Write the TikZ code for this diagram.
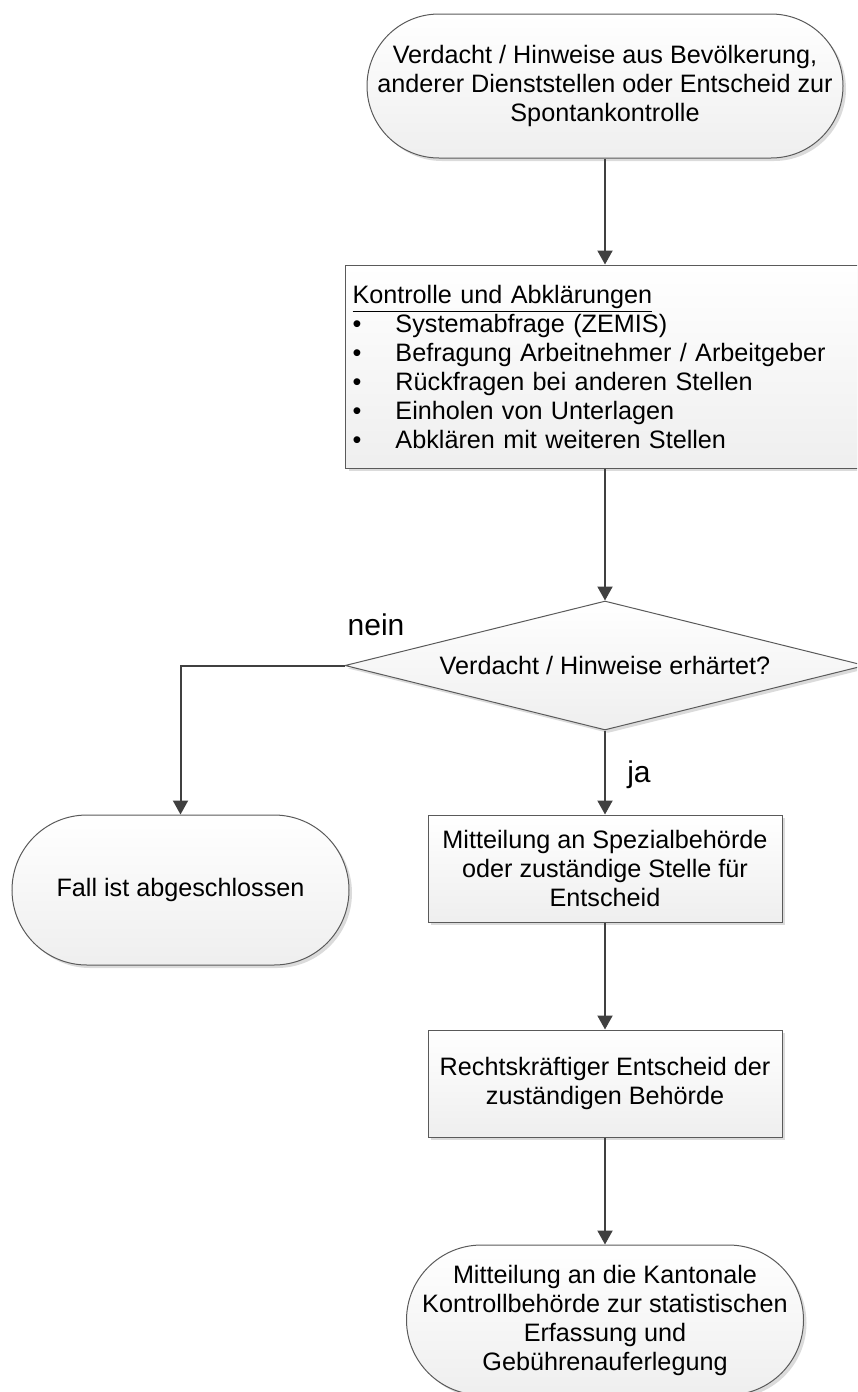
\documentclass[tikz,border=0pt]{standalone}
\usepackage{fontspec}
\setmainfont{Liberation Sans}
\usepackage{tikz}
\usetikzlibrary{arrows.meta}
\usetikzlibrary{shapes.geometric}
\usetikzlibrary{shadows}
\definecolor{linegray}{HTML}{404040}
\definecolor{edgegray}{HTML}{5A5A5A}

\begin{document}
\begin{tikzpicture}[x=0.5pt, y=-0.5pt,
    box/.style={draw=edgegray, line width=0.5pt, top color=white, bottom color=gray!13,
      drop shadow={shadow xshift=1.5pt, shadow yshift=-1.5pt, fill=black!20, opacity=0.7},
      font=\fontsize{12.6}{14.5}\selectfont, align=center, inner sep=2pt},
    terminal/.style={box, rectangle, rounded corners=#1, minimum height=2*#1},
    process/.style={box, rectangle},
    decision/.style={box, diamond, aspect=4, minimum width=260pt, minimum height=64.5pt, inner sep=0pt},
    lbl/.style={font=\fontsize{15}{17}\selectfont, inner sep=0pt},
    flow/.style={draw=linegray, line width=1pt, -{Triangle[length=7pt, width=7.5pt]}}]

      \newcommand\colx{605}

      \useasboundingbox (0, 0) rectangle (857, 1392);
      \clip (0, 0) rectangle (857, 1392);

      \node [terminal=36pt, minimum width=238pt] (start) at (\colx, 86)
        {Verdacht / Hinweise aus Bevölkerung,\\anderer Dienststellen oder Entscheid zur\\Spontankontrolle};
      \node [process, anchor=west, minimum height=101.5pt, text width=255.5pt, align=left, inner xsep=3.5pt] (check) at (345, 366.5)
        {\underline{Kontrolle und Abklärungen}\\
         \makebox[21.5pt][l]{\textbullet}Systemabfrage (ZEMIS)\\
         \makebox[21.5pt][l]{\textbullet}Befragung Arbeitnehmer / Arbeitgeber\\
         \makebox[21.5pt][l]{\textbullet}Rückfragen bei anderen Stellen\\
         \makebox[21.5pt][l]{\textbullet}Einholen von Unterlagen\\
         \makebox[21.5pt][l]{\textbullet}Abklären mit weiteren Stellen};
      \node [decision] (test) at (\colx, 665.5) {Verdacht / Hinweise erhärtet?};
      \node [lbl] (no) at (376, 625) {nein};
      \node [lbl] (yes) at (639, 775) {ja};
      \node [terminal=37.5pt, minimum width=168.5pt] (closed) at (180.5, 890) {Fall ist abgeschlossen};
      \node [process, minimum width=177pt, minimum height=53.5pt] (notify) at (\colx, 868.5)
        {Mitteilung an Spezialbehörde\\oder zuständige Stelle für\\Entscheid};
      \node [process, minimum width=177pt, minimum height=53.5pt] (decide) at (\colx, 1083.5)
        {Rechtskräftiger Entscheid der\\zuständigen Behörde};
      \node [terminal=37.5pt, minimum width=198.5pt] (report) at (\colx, 1320)
        {Mitteilung an die Kantonale\\Kontrollbehörde zur statistischen\\Erfassung und\\Gebührenauferlegung};

      \draw [flow] (start.south) -- (start.south |- check.north);
      \draw [flow] (start.south |- check.south) -- (test.north);
      \draw [flow] (test.west) -| (closed.north);
      \draw [flow] (test.south) -- (notify.north);
      \draw [flow] (notify.south) -- (decide.north);
      \draw [flow] (decide.south) -- (report.north);

    \end{tikzpicture}
\end{document}
